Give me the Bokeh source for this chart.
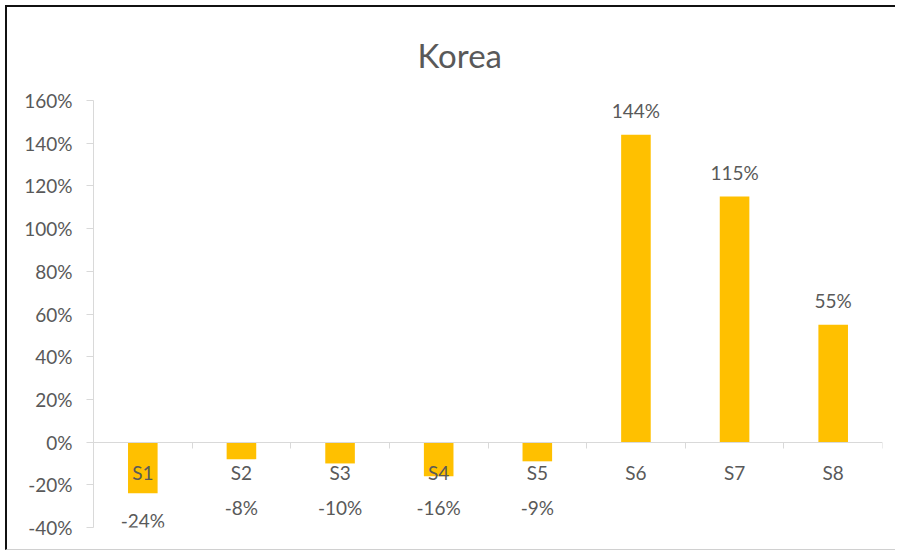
import numpy as np
from bokeh.plotting import figure
from bokeh.models import (Range1d, LinearAxis, FixedTicker, NumeralTickFormatter,
                          ColumnDataSource)
from bokeh.core.properties import value
from bokeh.embed import file_html
from bokeh.resources import INLINE

# ---- data ----
title_text = "Korea"
categories = ["S1", "S2", "S3", "S4", "S5", "S6", "S7", "S8"]
values = [-0.24, -0.08, -0.10, -0.16, -0.09, 1.44, 1.15, 0.55]
y_ticks = [-0.4, -0.2, 0.0, 0.2, 0.4, 0.6, 0.8, 1.0, 1.2, 1.4, 1.6]

FONT = "Lato"
TXT = "#595959"
AX = "#d9d9d9"
BAR = "#FFC000"

n = len(categories)
xc = [i + 0.5 for i in range(n)]
vals = np.array(values)
labels = [f"{round(v * 100)}%" for v in values]
pos = vals >= 0
lab_y = np.where(pos, vals, np.minimum(vals, -0.18))
lab_off = np.where(pos, -24, 27)

src = ColumnDataSource(dict(x=xc, top=values, lab=labels, ly=lab_y, lo=lab_off))

p = figure(width=890, height=545, output_backend="svg", toolbar_location=None,
           x_range=Range1d(0, n), y_range=Range1d(y_ticks[0], y_ticks[-1]),
           min_border_left=86, min_border_right=15, min_border_top=93,
           min_border_bottom=25, x_axis_location=None, y_axis_location=None)
p.styles = {"margin-left": "5px", "margin-top": "5px",
            "border-left": "2px solid #111", "border-top": "2px solid #111",
            "border-bottom": "1px solid #d0d0d0"}
p.outline_line_color = None
p.grid.visible = False
p.background_fill_color = "white"
p.border_fill_color = "white"

# title
p.title.text = title_text
p.title.align = "left"
p.title.vertical_align = "top"
p.title.text_font = FONT
p.title.text_font_size = "33px"
p.title.text_font_style = "normal"
p.title.text_color = TXT
p.title.standoff = 48
p.title.offset = 324

# y axis
ya = LinearAxis(ticker=FixedTicker(ticks=y_ticks),
                formatter=NumeralTickFormatter(format="0%"))
ya.axis_line_color = AX
ya.major_tick_line_color = AX
ya.major_tick_out = 7
ya.major_tick_in = 0
ya.minor_tick_line_color = None
ya.major_label_standoff = 14
ya.major_label_text_font = FONT
ya.major_label_text_font_size = "19px"
ya.major_label_text_color = TXT
p.add_layout(ya, "left")

# x axis at zero: boundary ticks
xa = LinearAxis(ticker=FixedTicker(ticks=list(range(n + 1))),
                major_label_overrides={i: "" for i in range(n + 1)})
xa.fixed_location = 0
xa.axis_line_color = AX
xa.major_tick_line_color = AX
xa.major_tick_out = 6
xa.major_tick_in = 0
xa.minor_tick_line_color = None
xa.major_label_text_font_size = "1px"
p.add_layout(xa, "below")

p.vbar(x="x", top="top", bottom=0, width=0.3, source=src,
       fill_color=BAR, line_color=None)

# category labels (on top of bars)
xl = LinearAxis(ticker=FixedTicker(ticks=xc),
                major_label_overrides={x: c for x, c in zip(xc, categories)})
xl.fixed_location = 0
xl.axis_line_color = None
xl.major_tick_line_color = None
xl.minor_tick_line_color = None
xl.major_tick_out = 0
xl.major_tick_in = 0
xl.major_label_standoff = 19
xl.major_label_text_font = FONT
xl.major_label_text_font_size = "19px"
xl.major_label_text_color = TXT
p.add_layout(xl, "below")

# data labels
p.text(x="x", y="ly", text="lab", y_offset="lo", source=src,
       text_align="center", text_baseline="middle",
       text_font=value(FONT), text_font_size="19px", text_color=TXT)

open("out.html", "w").write(file_html(p, INLINE))
